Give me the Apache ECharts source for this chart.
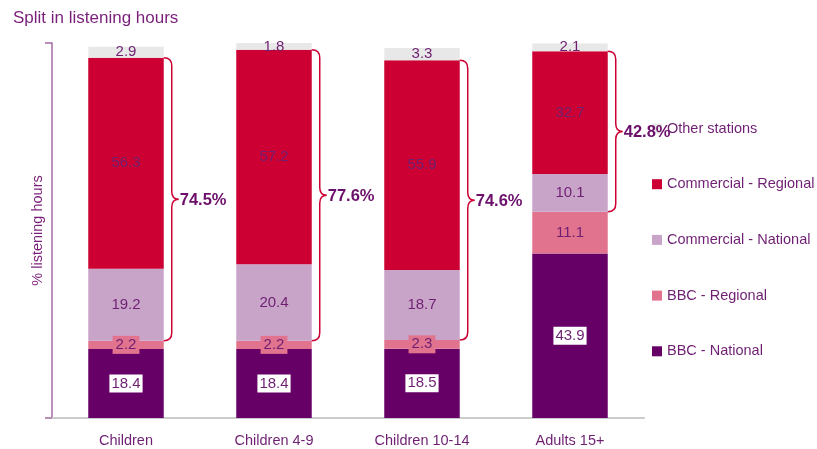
<!DOCTYPE html>
<html>
<head>
<meta charset="utf-8">
<script src="https://cdn.jsdelivr.net/npm/echarts@6/dist/echarts.min.js"></script>
<style>html,body{margin:0;padding:0;background:#fff}#c{width:817px;height:449px}</style>
</head>
<body>
<div id="c"></div>
<script>
const categories = ['Children', 'Children 4-9', 'Children 10-14', 'Adults 15+'];
const bbcNational = [18.4, 18.4, 18.5, 43.9];
const bbcRegional = [2.2, 2.2, 2.3, 11.1];
const commercialNational = [19.2, 20.4, 18.7, 10.1];
const commercialRegional = [56.3, 57.2, 55.9, 32.7];
const otherStations = [2.9, 1.8, 3.3, 2.1];
const braceLabels = ['74.5%', '77.6%', '74.6%', '42.8%'];

const FONT = 'Liberation Sans, Arial, sans-serif';
const PURPLE = '#6e1f72';
const C = {
  bbcNat: '#660066',
  bbcReg: '#e2738e',
  comNat: '#c9a4c9',
  comReg: '#cc0033',
  other: '#e8e8e8'
};

const braceData = categories.map((c, i) => {
  const lo = bbcNational[i] + bbcRegional[i];
  const hi = lo + commercialNational[i] + commercialRegional[i];
  return [i, lo, hi];
});

function baseLabel(extra) {
  return Object.assign({
    show: true, position: 'inside', color: PURPLE,
    fontSize: 15, fontFamily: FONT, textBorderWidth: 0, textShadowBlur: 0
  }, extra || {});
}

function renderBrace(params, api) {
  const i = api.value(0), lo = api.value(1), hi = api.value(2);
  const pLo = api.coord([i, lo]);
  const pHi = api.coord([i, hi]);
  const band = api.size([1, 0])[0];
  const x0 = pLo[0] + band * 0.255;
  const y1 = pHi[1], y2 = pLo[1];
  const ym = (y1 + y2) / 2;
  const xv = x0 + 8, xt = x0 + 15, r = 8;
  const d = `M${x0},${y1} Q${xv},${y1} ${xv},${y1 + r} L${xv},${ym - r} Q${xv},${ym} ${xt},${ym} ` +
            `Q${xv},${ym} ${xv},${ym + r} L${xv},${y2 - r} Q${xv},${y2} ${x0},${y2}`;
  return {
    type: 'group',
    children: [
      { type: 'path', shape: { pathData: d }, style: { stroke: '#cc0033', fill: 'none', lineWidth: 1.5 } },
      { type: 'text', x: xt + 1, y: ym + 1,
        style: { text: braceLabels[params.dataIndex], fill: '#6b0f6b', font: 'bold 16.5px ' + FONT,
                 verticalAlign: 'middle', align: 'left' } }
    ]
  };
}

const chart = echarts.init(document.getElementById('c'));
chart.setOption({
  animation: false,
  backgroundColor: '#fff',
  title: {
    text: 'Split in listening hours', left: 8, top: 5,
    textStyle: { color: '#7a1f7a', fontSize: 17, fontWeight: 'normal', fontFamily: FONT }
  },
  legend: {
    orient: 'vertical', left: 647, top: 116,
    itemWidth: 10, itemHeight: 10, itemGap: 40.7, icon: 'rect',
    textStyle: { color: PURPLE, fontSize: 14.5, fontFamily: FONT },
    data: ['Other stations', 'Commercial - Regional', 'Commercial - National', 'BBC - Regional', 'BBC - National']
  },
  grid: { left: 52, right: 173, top: 43, bottom: 31, containLabel: false },
  xAxis: {
    type: 'category', data: categories,
    axisLine: { lineStyle: { color: '#cccccc', width: 2 } },
    axisTick: { show: false },
    axisLabel: { color: PURPLE, fontSize: 14.5, fontFamily: FONT, margin: 15 }
  },
  yAxis: {
    type: 'value', min: 0, max: 100, interval: 100,
    name: '% listening hours', nameLocation: 'middle', nameGap: 7, nameRotate: 90,
    nameTextStyle: { color: '#7a1f7a', fontSize: 14.5, fontFamily: FONT },
    axisLine: { show: true, lineStyle: { color: '#a36aa3', width: 1.5 } },
    axisTick: { show: true, length: 7, lineStyle: { color: '#a36aa3', width: 1.5 } },
    axisLabel: { show: false },
    splitLine: { show: false }
  },
  series: [
    { name: 'BBC - National', type: 'bar', stack: 's', barWidth: '51%', data: bbcNational,
      itemStyle: { color: C.bbcNat },
      label: baseLabel({ backgroundColor: '#ffffff', padding: [2, 2, 1, 2] }) },
    { name: 'BBC - Regional', type: 'bar', stack: 's', data: bbcRegional,
      itemStyle: { color: C.bbcReg },
      label: baseLabel({ backgroundColor: C.bbcReg, padding: [2, 3, 1, 3] }) },
    { name: 'Commercial - National', type: 'bar', stack: 's', data: commercialNational,
      itemStyle: { color: C.comNat }, label: baseLabel() },
    { name: 'Commercial - Regional', type: 'bar', stack: 's', data: commercialRegional,
      itemStyle: { color: C.comReg }, label: baseLabel() },
    { name: 'Other stations', type: 'bar', stack: 's', data: otherStations,
      itemStyle: { color: C.other }, label: baseLabel() },
    { name: 'braces', type: 'custom', renderItem: renderBrace, data: braceData,
      encode: { x: 0, y: [1, 2] }, z: 5, silent: true }
  ]
});
</script>
</body>
</html>
